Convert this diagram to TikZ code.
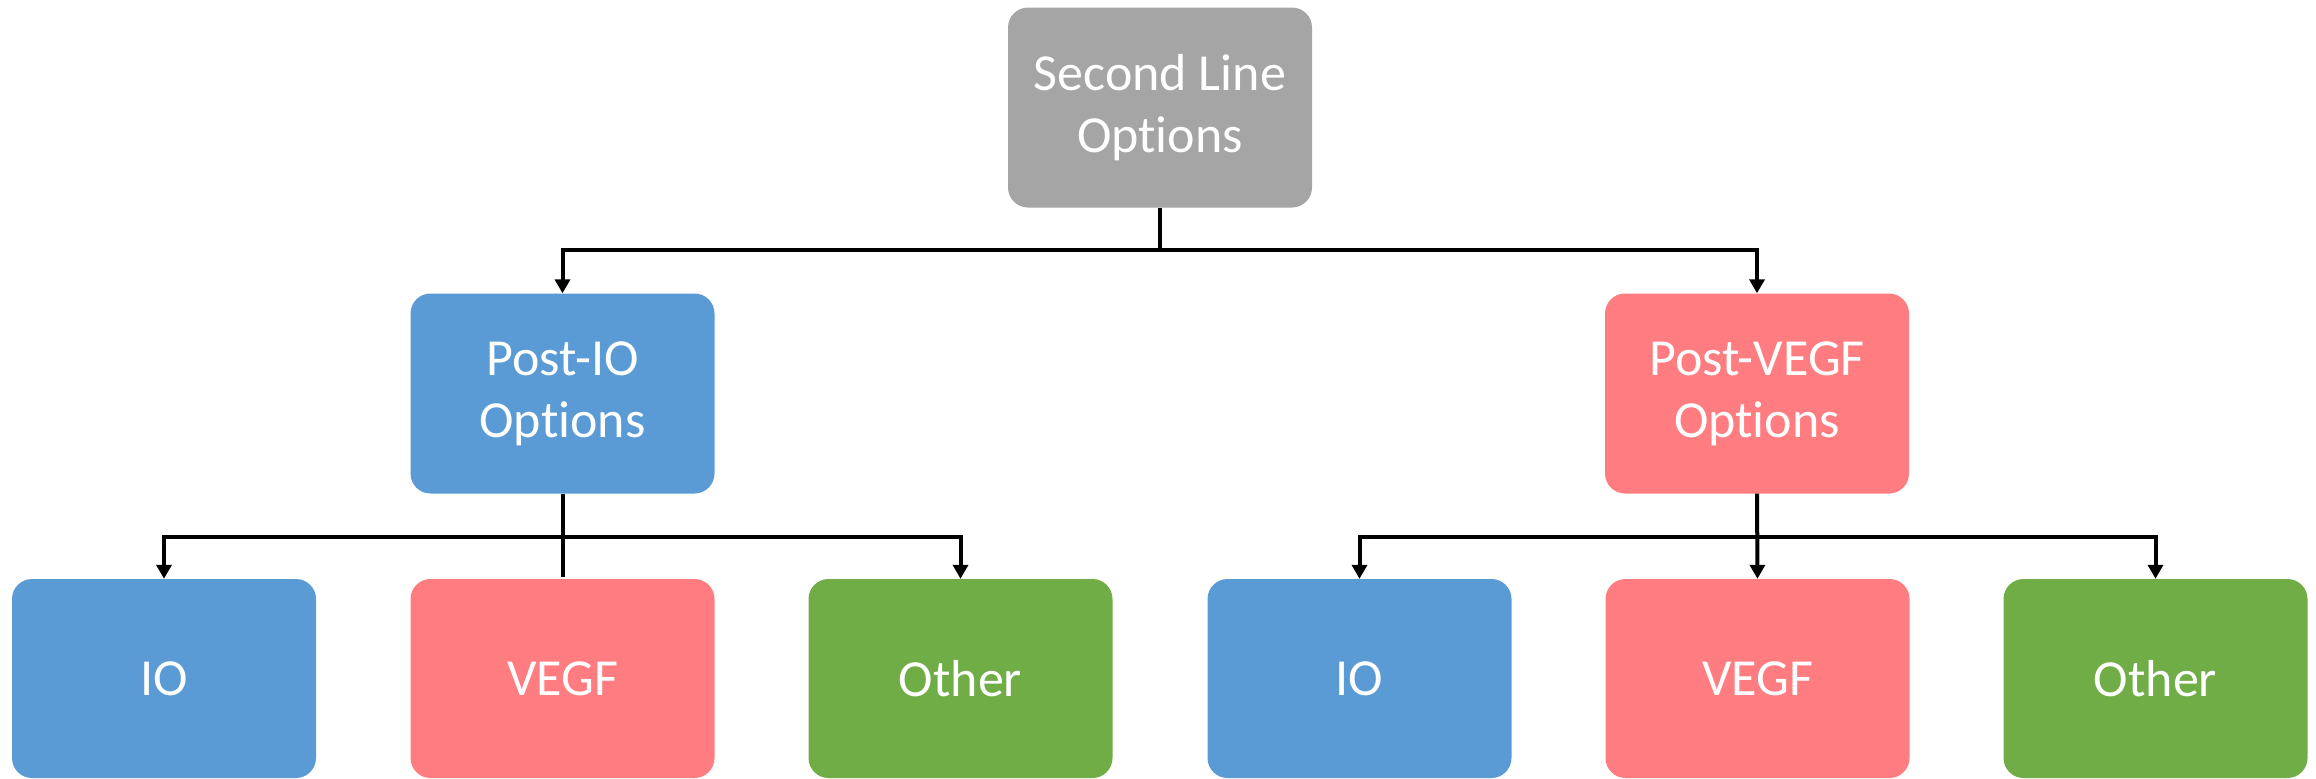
\documentclass[tikz,border=0pt]{standalone}
\usepackage{fontspec}
\setmainfont{Carlito}[RawFeature={-liga;-clig;-dlig}]
\usetikzlibrary{arrows.meta}
\definecolor{boxgray}{HTML}{A5A5A5}
\definecolor{boxblue}{HTML}{5B9BD5}
\definecolor{boxred}{HTML}{FF7C80}
\definecolor{boxgreen}{HTML}{70AD47}
\tikzset{
  optbox/.style={rounded corners=20pt, minimum width=304pt, minimum height=200pt,
    inner sep=0pt, align=center, text=white,
    font=\fontsize{52}{62}\selectfont},
  link/.style={line width=4pt, -{Triangle[width=15pt,length=14pt]}},
  plain/.style={line width=4pt}
}
\begin{document}
\begin{tikzpicture}[x=1pt,y=-1pt]
\useasboundingbox (0,0) rectangle (2316,779);
% root
\node[optbox, fill=boxgray] (root) at (1160,107.5) {Second Line\\Options};
% second level
\node[optbox, fill=boxblue] (pio) at (562.5,393.5) {Post-IO\\Options};
\node[optbox, fill=boxred] (pvegf) at (1757,393.5) {Post-VEGF\\Options};
% third level
\node[optbox, fill=boxblue, minimum height=199pt] (io1) at (164,678.5) {IO};
\node[optbox, fill=boxred, minimum height=199pt] (vegf1) at (562.5,678.5) {VEGF};
\node[optbox, fill=boxgreen, minimum height=199pt] (oth1) at (960.5,678.5) {Other};
\node[optbox, fill=boxblue, minimum height=199pt] (io2) at (1359.5,678.5) {IO};
\node[optbox, fill=boxred, minimum height=199pt] (vegf2) at (1757.5,678.5) {VEGF};
\node[optbox, fill=boxgreen, minimum height=199pt] (oth2) at (2155.5,678.5) {Other};
% junction points
\coordinate (j0) at (1160,250);
\coordinate (j1) at (562.5,537);
\coordinate (j2) at (1757.5,537);
\coordinate (e1) at (562.5,577);
% connectors
\draw[plain] (root.south) -- (j0);
\draw[link] (j0) -| (pio.north);
\draw[link] (j0) -| (pvegf.north);
\draw[plain] (pio.south) -- (e1);
\draw[link] (j1) -| (io1.north);
\draw[link] (j1) -| (oth1.north);
\draw[link] (pvegf.south) -- (vegf2.north);
\draw[link] (j2) -| (io2.north);
\draw[link] (j2) -| (oth2.north);
\end{tikzpicture}
\end{document}
